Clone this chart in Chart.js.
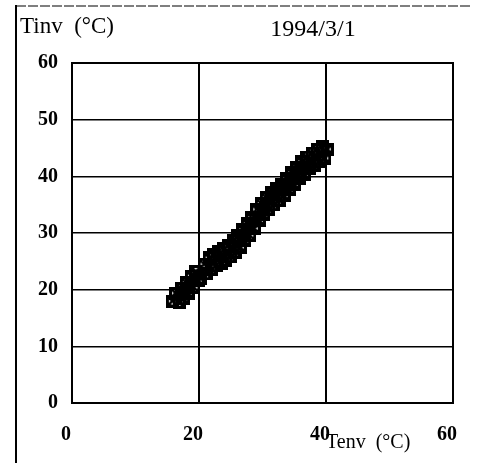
<!DOCTYPE html>
<html>
<head>
<meta charset="utf-8">
<script src="https://cdn.jsdelivr.net/npm/chart.js@4/dist/chart.umd.min.js"></script>
<style>
html,body{margin:0;padding:0;background:#fff;}
#wrap{position:relative;width:484px;height:463px;}
canvas{display:block;}
</style>
</head>
<body>
<div id="wrap"><canvas id="c" width="484" height="463"></canvas></div>
<script>
// ---- data ----
const titleText = "1994/3/1";
const yAxisTitle = "Tinv  (°C)";
const xAxisTitle = "Tenv  (°C)";
const xTicks = [0, 20, 40, 60];
const yTicks = [0, 10, 20, 30, 40, 50, 60];
const envTemp = [15.8,16.3,16.9,17.2,17.6,18.0,18.3,18.8,19.2,19.5,19.9,20.3,20.8,21.2,21.6,22.0,22.3,22.7,23.1,23.5,23.9,24.2,24.6,25.0,25.4,25.8,26.1,26.5,26.9,27.2,27.6,28.0,28.3,28.7,29.1,29.5,29.8,30.2,30.6,31.0,31.4,31.8,32.2,32.6,33.0,33.4,33.8,34.2,34.6,35.0,35.4,35.8,36.2,36.6,37.0,37.4,37.8,38.2,38.6,39.0,39.4,39.8,40.2];
const invTemp = [18.0,19.4,17.8,20.2,18.4,21.2,19.4,22.4,20.4,23.2,21.6,22.0,24.5,22.8,25.6,23.6,26.2,24.2,26.8,24.7,27.2,25.2,27.8,25.8,28.6,26.6,29.5,27.5,30.6,28.6,31.6,29.6,32.7,30.8,34.2,32.2,35.2,33.2,36.2,34.2,37.1,35.0,37.9,35.8,38.6,36.6,39.6,37.6,40.6,38.6,41.6,39.6,42.6,40.4,43.4,41.3,44.1,42.0,44.7,42.6,45.2,43.2,44.8];

// marker: heavy square with a cross inside
function makeMarker(){
  const s = 13, m = document.createElement('canvas');
  m.width = s; m.height = s;
  const g = m.getContext('2d');
  g.strokeStyle = '#000'; g.lineWidth = 3;
  g.strokeRect(1.5,1.5,s-3,s-3);
  g.lineWidth = 2.5;
  g.beginPath(); g.moveTo(1,1); g.lineTo(s-1,s-1); g.moveTo(s-1,1); g.lineTo(1,s-1); g.stroke();
  return m;
}

const points = envTemp.map((x,i)=>({x:x, y:invTemp[i]}));

const decor = {
  id:'decor',
  afterDraw(chart){
    const ctx = chart.ctx, a = chart.chartArea;
    ctx.save();
    // outer frame lines
    ctx.strokeStyle = '#000';
    ctx.lineWidth = 2;
    ctx.beginPath(); ctx.moveTo(16,5); ctx.lineTo(16,463); ctx.stroke();
    ctx.lineWidth = 1.2;
    ctx.setLineDash([10,2]);
    ctx.beginPath(); ctx.moveTo(16,6); ctx.lineTo(472,6); ctx.stroke();
    ctx.setLineDash([]);
    // plot border
    ctx.lineWidth = 2;
    ctx.strokeRect(a.left, a.top, a.right-a.left, a.bottom-a.top);
    // texts
    ctx.fillStyle = '#000';
    ctx.textBaseline = 'alphabetic';
    ctx.font = '23px "Liberation Serif"';
    ctx.textAlign = 'left';
    ctx.fillText(yAxisTitle, 20, 33);
    ctx.font = '24px "Liberation Serif"';
    ctx.textAlign = 'center';
    ctx.fillText(titleText, 313, 36);
    ctx.textAlign = 'left';
    ctx.font = '20px "Liberation Serif"';
    ctx.fillText(xAxisTitle, 326, 448);
    ctx.restore();
  }
};

new Chart(document.getElementById('c'), {
  type:'scatter',
  data:{datasets:[{
    data: points,
    pointStyle: makeMarker(),
    pointRadius: 6,
    borderColor:'#000',
    backgroundColor:'#000'
  }]},
  options:{
    responsive:false,
    animation:false,
    events:[],
    layout:{padding:{top:63,right:31,left:0,bottom:0}},
    plugins:{legend:{display:false},tooltip:{enabled:false},title:{display:false}},
    scales:{
      x:{
        type:'linear', min:0, max:60,
        afterFit(s){ s.height = 60; },
        afterBuildTicks(s){ s.ticks = xTicks.map(v=>({value:v})); },
        border:{display:true,color:'#000',width:2},
        grid:{color:'#000', lineWidth:2, drawTicks:false},
        ticks:{padding:20, labelOffset:-6, color:'#000', font:{family:'"Liberation Serif"', size:20, weight:'bold'}, maxRotation:0}
      },
      y:{
        type:'linear', min:0, max:60,
        afterFit(s){ s.width = 72; },
        afterBuildTicks(s){ s.ticks = yTicks.map(v=>({value:v})); },
        border:{display:true,color:'#000',width:2},
        grid:{color:'#000', lineWidth:1.5, drawTicks:false},
        ticks:{padding:14, color:'#000', font:{family:'"Liberation Serif"', size:20, weight:'bold'}}
      }
    }
  },
  plugins:[decor]
});
</script>
</body>
</html>
